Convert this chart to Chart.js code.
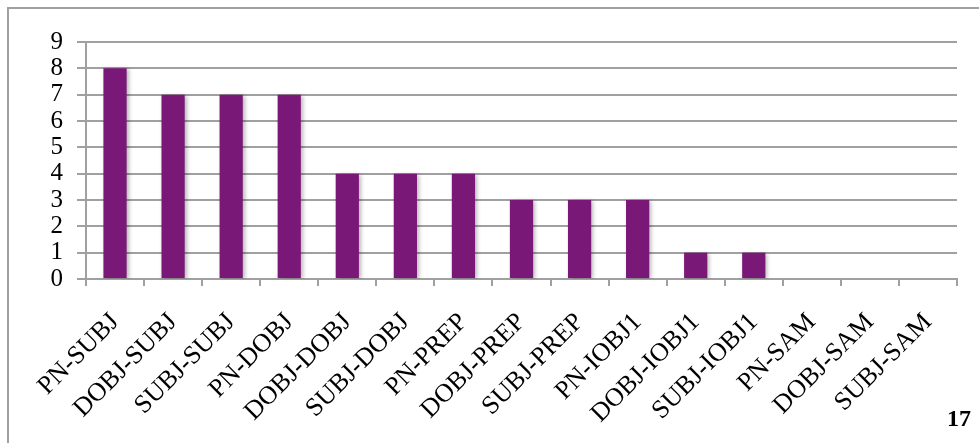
<!DOCTYPE html>
<html>
<head>
<meta charset="utf-8">
<script src="https://cdn.jsdelivr.net/npm/chart.js@4"></script>
<style>
  html, body { margin:0; padding:0; background:#fff; overflow:hidden; }
  #wrap { position:relative; width:979px; height:443px; }
  #frame { position:absolute; left:7px; top:7px; width:1100px; height:600px; border:2px solid #A0A0A0; box-sizing:border-box; }
  canvas { position:absolute; left:0; top:0; }
  #pg { position:absolute; left:947px; top:405px; font-family:"Liberation Serif",serif; font-weight:bold; font-size:24px; color:#000; }
</style>
</head>
<body>
<div id="wrap">
  <div id="frame"></div>
  <canvas id="c" width="979" height="443"></canvas>
  <div id="pg">17</div>
</div>
<script>
const categories = ["PN-SUBJ","DOBJ-SUBJ","SUBJ-SUBJ","PN-DOBJ","DOBJ-DOBJ","SUBJ-DOBJ","PN-PREP","DOBJ-PREP","SUBJ-PREP","PN-IOBJ1","DOBJ-IOBJ1","SUBJ-IOBJ1","PN-SAM","DOBJ-SAM","SUBJ-SAM"];
const counts = [8,7,7,7,4,4,4,3,3,3,1,1,0,0,0];
const yMin = 0, yMax = 9, yStep = 1;

const shadowPlugin = {
  id: 'barShadow',
  beforeDatasetsDraw(chart) {
    const ctx = chart.ctx;
    ctx.save();
    ctx.shadowColor = 'rgba(0,0,0,0.28)';
    ctx.shadowBlur = 4;
    ctx.shadowOffsetX = 2;
    ctx.shadowOffsetY = 1;
  },
  afterDatasetsDraw(chart) {
    chart.ctx.restore();
  }
};

const gridColor = '#A0A0A0';

new Chart(document.getElementById('c'), {
  type: 'bar',
  data: {
    labels: categories,
    datasets: [{
      data: counts,
      backgroundColor: '#7A1878',
      borderWidth: 0,
      barPercentage: 0.4,
      categoryPercentage: 1.0
    }]
  },
  options: {
    responsive: false,
    animation: false,
    layout: { padding: { left: 0, right: 22, top: 42, bottom: 0 } },
    plugins: { legend: { display: false }, tooltip: { enabled: false } },
    scales: {
      x: {
        offset: true,
        grid: { display: true, drawOnChartArea: false, drawTicks: true, tickLength: 7, offset: true, color: gridColor, lineWidth: 2 },
        border: { display: true, color: gridColor, width: 2 },
        ticks: { color: '#000', font: { family: 'Liberation Serif', size: 26 }, minRotation: 45, maxRotation: 45, autoSkip: false, padding: 21 },
        afterFit(s) { s.height = 164; }
      },
      y: {
        min: yMin, max: yMax,
        grid: { display: true, drawOnChartArea: true, color: gridColor, lineWidth: 2, tickLength: 9, drawTicks: true },
        border: { display: true, color: gridColor, width: 2 },
        ticks: { color: '#000', font: { family: 'Liberation Serif', size: 25 }, padding: 14, stepSize: yStep, autoSkip: false },
        afterFit(s) { s.width = 86; }
      }
    }
  },
  plugins: [shadowPlugin]
});
</script>
</body>
</html>
